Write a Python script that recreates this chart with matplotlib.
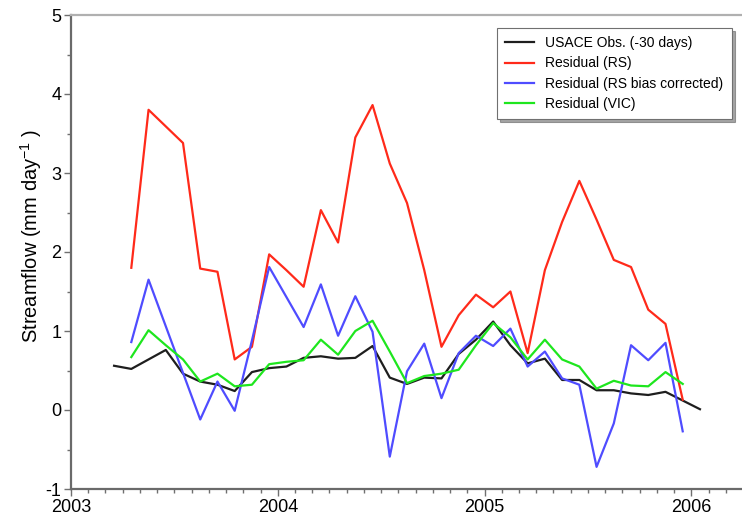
import numpy as np
import matplotlib.pyplot as plt
from matplotlib.ticker import MultipleLocator

plt.rcParams["font.family"] = ["Liberation Sans", "DejaVu Sans"]
plt.rcParams["axes.unicode_minus"] = False

# monthly series, first value is the month number in 2003
obs_start = 3   # March 2003
obs = [0.56, 0.52, 0.64, 0.76, 0.46, 0.36, 0.32, 0.24, 0.48, 0.53,
       0.55, 0.66, 0.68, 0.65, 0.66, 0.81, 0.41, 0.33, 0.41, 0.40,
       0.71, 0.89, 1.12, 0.82, 0.59, 0.65, 0.38, 0.38, 0.25, 0.25,
       0.21, 0.19, 0.23, 0.12, 0.01]

res_start = 4   # April 2003
res_rs = [1.80, 3.80, 3.59, 3.38, 1.79, 1.75, 0.64, 0.80, 1.97, 1.77,
          1.56, 2.53, 2.12, 3.45, 3.86, 3.12, 2.62, 1.77, 0.80, 1.20,
          1.46, 1.30, 1.50, 0.72, 1.77, 2.38, 2.90, 2.41, 1.90, 1.81,
          1.27, 1.09, 0.13]
res_rs_bc = [0.86, 1.65, 1.06, 0.47, -0.12, 0.36, -0.01, 0.88, 1.81, 1.43,
             1.05, 1.59, 0.94, 1.44, 0.99, -0.59, 0.49, 0.84, 0.15, 0.72,
             0.94, 0.81, 1.03, 0.55, 0.74, 0.40, 0.32, -0.72, -0.17, 0.82,
             0.63, 0.85, -0.27]
res_vic = [0.67, 1.01, 0.82, 0.64, 0.36, 0.46, 0.30, 0.32, 0.58, 0.61,
           0.63, 0.89, 0.70, 1.00, 1.13, 0.74, 0.34, 0.43, 0.46, 0.51,
           0.82, 1.10, 0.92, 0.64, 0.89, 0.64, 0.55, 0.27, 0.37, 0.31,
           0.30, 0.48, 0.33]

year_ticks = [2003, 2004, 2005, 2006]


def month_axis(start, n):
    # mid-month positions in decimal years
    return 2003 + (np.arange(n) + start - 0.5) / 12


fig = plt.figure(figsize=(7.42, 5.23), dpi=100)
ax = fig.add_axes([71 / 742, 1 - 489 / 523, 1 - 71 / 742, 474 / 523])

lw = 1.6
ax.plot(month_axis(obs_start, len(obs)), obs, color="#1e1e1e", lw=lw,
        label="USACE Obs. (-30 days)")
ax.plot(month_axis(res_start, len(res_rs)), res_rs, color="#ff2a1a", lw=lw,
        label="Residual (RS)")
ax.plot(month_axis(res_start, len(res_rs_bc)), res_rs_bc, color="#4f4cff", lw=lw,
        label="Residual (RS bias corrected)")
ax.plot(month_axis(res_start, len(res_vic)), res_vic, color="#1ee61e", lw=lw,
        label="Residual (VIC)")

ax.set_xlim(2003, 2006.245)
ax.set_ylim(-1, 5)
ax.set_xticks(year_ticks)
ax.set_xticklabels([str(y) for y in year_ticks])
ax.xaxis.set_minor_locator(MultipleLocator(1 / 12))
ax.yaxis.set_major_locator(MultipleLocator(1))
ax.yaxis.set_minor_locator(MultipleLocator(0.5))

ax.tick_params(which="both", direction="out", colors="#707070",
               labelcolor="black", labelsize=13, width=1)
ax.tick_params(which="major", length=5, pad=2)
ax.tick_params(which="minor", length=3)

for side in ["left", "bottom"]:
    ax.spines[side].set_color("#6a6a6a")
    ax.spines[side].set_linewidth(1.6)
ax.spines["top"].set_color("#b0b0b0")
ax.spines["top"].set_linewidth(1.6)
ax.spines["right"].set_visible(False)

ax.set_ylabel("Streamflow (mm day$^{\\mathregular{-1}}$ )", fontsize=14.5)
ax.yaxis.set_label_coords(-0.04, 0.535)

leg = ax.legend(loc="upper right", bbox_to_anchor=(0.985, 0.973), fontsize=10,
                handlelength=2.1, labelspacing=0.45, borderpad=0.6,
                borderaxespad=0, fancybox=False, shadow=True, framealpha=1)
leg.get_frame().set_edgecolor("#707070")
leg.get_frame().set_linewidth(0.8)

fig.savefig("out.png", dpi=100)
